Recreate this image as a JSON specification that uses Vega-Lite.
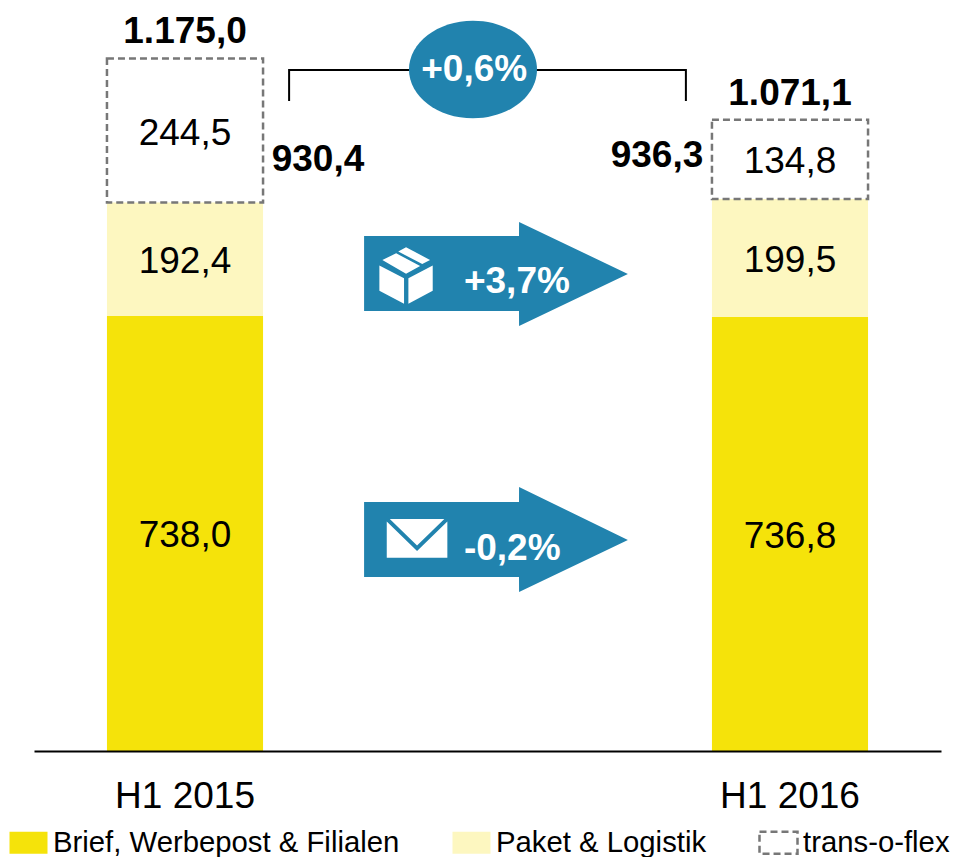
{
"$schema":"https://vega.github.io/schema/vega-lite/v6.json",
"width":907,"height":751,
"autosize":{"type":"none"},
"padding":{"left":34,"right":14,"top":0,"bottom":106},
"background":"white",
"config":{"view":{"stroke":null},"text":{"font":"Liberation Sans","fontSize":37,"color":"#000"},"axis":{"labelFont":"Liberation Sans"},"legend":{"labelFont":"Liberation Sans"}},
"datasets":{
"segments":[
{"period":"H1 2015","segment":"Brief, Werbepost & Filialen","rank":1,"value":738.0,"label":"738,0"},
{"period":"H1 2015","segment":"Paket & Logistik","rank":2,"value":192.4,"label":"192,4"},
{"period":"H1 2015","segment":"trans-o-flex","rank":3,"value":244.5,"label":"244,5"},
{"period":"H1 2016","segment":"Brief, Werbepost & Filialen","rank":1,"value":736.8,"label":"736,8"},
{"period":"H1 2016","segment":"Paket & Logistik","rank":2,"value":199.5,"label":"199,5"},
{"period":"H1 2016","segment":"trans-o-flex","rank":3,"value":134.8,"label":"134,8"}],
"totals":[
{"period":"H1 2015","total":1175.0,"label":"1.175,0","subtotal":930.4,"sublabel":"930,4"},
{"period":"H1 2016","total":1071.1,"label":"1.071,1","subtotal":936.3,"sublabel":"936,3"}],
"arrows":[
{"arrow":"parcel","t":0.2959,"top":873.7,"bottom":746.5},
{"arrow":"parcel","t":0.5521,"top":873.7,"bottom":746.5},
{"arrow":"parcel","t":0.5522,"top":897.5,"bottom":721},
{"arrow":"parcel","t":0.7322,"top":809.3,"bottom":809.3},
{"arrow":"mail","t":0.2959,"top":422.4,"bottom":295.2},
{"arrow":"mail","t":0.5521,"top":422.4,"bottom":295.2},
{"arrow":"mail","t":0.5522,"top":447.9,"bottom":269.8},
{"arrow":"mail","t":0.7322,"top":358,"bottom":358}],
"bracket":[
{"step":1,"t":0.1719,"v":1102.8},
{"step":2,"t":0.1719,"v":1155.4},
{"step":3,"t":0.8281,"v":1155.4},
{"step":4,"t":0.8281,"v":1102.8}],
"changes":[
{"name":"Paket","t":0.461,"v":796,"label":"+3,7%"},
{"name":"Brief","t":0.461,"v":343,"label":"-0,2%"}],
"overall":[{"t":0.476,"v":1156.2,"tl":0.478,"vl":1156,"label":"+0,6%"}],
"parcelIcon":[{"t":0.3653,"v":806.7}],
"mailIcon":[{"t":0.3835,"v":360.9}]
},
"resolve":{"scale":{"x":"independent"}},
"layer":[
{
"layer":[
{"data":{"name":"segments"},
 "mark":{"type":"bar","strokeWidth":2.5},
 "encoding":{
  "x":{"field":"period","type":"nominal","title":null,"sort":null,
   "scale":{"type":"band","paddingInner":0.742,"paddingOuter":0.1206},
   "axis":{"labelAngle":0,"labelFontSize":37,"labelColor":"#000","labelPadding":45,"labelBaseline":"middle","ticks":false,"domainColor":"#000","domainWidth":2,"grid":false,"zindex":1}},
  "y":{"field":"value","type":"quantitative","stack":"zero","scale":{"domain":[0,1274.1],"nice":false},"axis":null},
  "order":{"field":"rank"},
  "fill":{"field":"segment","type":"nominal",
   "scale":{"domain":["Brief, Werbepost & Filialen","Paket & Logistik","trans-o-flex"],"range":["#f5e30a","#fdf7c0","transparent"]},
   "legend":{"title":null,"orient":"none","legendX":-26,"legendY":822,"direction":"horizontal","columns":3,"padding":0,"columnPadding":47,"labelFontSize":29.3,"labelColor":"#000","labelOffset":4,"labelLimit":0,"symbolType":"M-1,-0.58H1V0.58H-1Z","symbolSize":1444,"symbolStrokeWidth":2.5}},
  "stroke":{"field":"segment","type":"nominal",
   "scale":{"domain":["Brief, Werbepost & Filialen","Paket & Logistik","trans-o-flex"],"range":["transparent","transparent","#777777"]},
   "legend":{"title":null,"orient":"none","legendX":-26,"legendY":822,"direction":"horizontal","columns":3,"padding":0,"columnPadding":47,"labelFontSize":29.3,"labelColor":"#000","labelOffset":4,"labelLimit":0,"symbolType":"M-1,-0.58H1V0.58H-1Z","symbolSize":1444,"symbolStrokeWidth":2.5}},
  "strokeDash":{"field":"segment","type":"nominal",
   "scale":{"domain":["Brief, Werbepost & Filialen","Paket & Logistik","trans-o-flex"],"range":[[1,0],[1,0],[7,4]]},
   "legend":{"title":null,"orient":"none","legendX":-26,"legendY":822,"direction":"horizontal","columns":3,"padding":0,"columnPadding":47,"labelFontSize":29.3,"labelColor":"#000","labelOffset":4,"labelLimit":0,"symbolType":"M-1,-0.58H1V0.58H-1Z","symbolSize":1444,"symbolStrokeWidth":2.5}}
 }},
{"data":{"name":"segments"},
 "mark":{"type":"text","baseline":"middle","dy":3},
 "encoding":{
  "x":{"field":"period","type":"nominal","sort":null},
  "y":{"field":"value","type":"quantitative","stack":"zero","bandPosition":0.5},
  "order":{"field":"rank"},
  "text":{"field":"label"}}},
{"data":{"name":"totals"},
 "mark":{"type":"text","baseline":"middle","fontWeight":"bold","dy":-26},
 "encoding":{
  "x":{"field":"period","type":"nominal","sort":null},
  "y":{"field":"total","type":"quantitative"},
  "text":{"field":"label"}}},
{"data":{"name":"totals"},
 "transform":[{"filter":"datum.period==='H1 2015'"}],
 "mark":{"type":"text","baseline":"middle","fontWeight":"bold","dx":133,"dy":-43},
 "encoding":{
  "x":{"field":"period","type":"nominal","sort":null},
  "y":{"field":"subtotal","type":"quantitative"},
  "text":{"field":"sublabel"}}},
{"data":{"name":"totals"},
 "transform":[{"filter":"datum.period==='H1 2016'"}],
 "mark":{"type":"text","baseline":"middle","fontWeight":"bold","dx":-133,"dy":-43},
 "encoding":{
  "x":{"field":"period","type":"nominal","sort":null},
  "y":{"field":"subtotal","type":"quantitative"},
  "text":{"field":"sublabel"}}}
]},
{
"layer":[
{"data":{"name":"bracket"},
 "mark":{"type":"line","color":"#000","strokeWidth":2,"interpolate":"linear"},
 "encoding":{
  "x":{"field":"t","type":"quantitative","scale":{"domain":[-0.25,1.25],"nice":false,"zero":false},"axis":null},
  "y":{"field":"v","type":"quantitative"},
  "order":{"field":"step"}}},
{"data":{"name":"arrows"},
 "mark":{"type":"area","color":"#2183ae","interpolate":"linear"},
 "encoding":{
  "x":{"field":"t","type":"quantitative"},
  "y":{"field":"top","type":"quantitative"},
  "y2":{"field":"bottom"},
  "detail":{"field":"arrow"}}},
{"data":{"name":"overall"},
 "mark":{"type":"point","filled":true,"opacity":1,"color":"#2183ae","size":16384,"shape":"M-1,0A1,0.763 0 1,1 1,0A1,0.763 0 1,1 -1,0Z"},
 "encoding":{
  "x":{"field":"t","type":"quantitative"},
  "y":{"field":"v","type":"quantitative"}}},
{"data":{"name":"overall"},
 "mark":{"type":"text","baseline":"middle","fontWeight":"bold","color":"#fff"},
 "encoding":{
  "x":{"field":"tl","type":"quantitative"},
  "y":{"field":"vl","type":"quantitative"},
  "text":{"field":"label"}}},
{"data":{"name":"changes"},
 "mark":{"type":"text","align":"left","baseline":"middle","fontWeight":"bold","color":"#fff"},
 "encoding":{
  "x":{"field":"t","type":"quantitative"},
  "y":{"field":"v","type":"quantitative"},
  "text":{"field":"label"}}},
{"data":{"name":"parcelIcon"},
 "mark":{"type":"point","filled":true,"opacity":1,"color":"#fff","size":3600,
  "shape":"M-0.889,-0.333L-0.067,0.089L-0.067,0.944L-0.889,0.511ZM0.889,-0.333L0.078,0.089L0.078,0.944L0.889,0.511ZM-0.79,-0.52L-0.33,-0.74L0.47,-0.32L0,-0.06ZM-0.26,-0.8L0,-0.94L0.8,-0.52L0.54,-0.38Z"},
 "encoding":{
  "x":{"field":"t","type":"quantitative"},
  "y":{"field":"v","type":"quantitative"}}},
{"data":{"name":"mailIcon"},
 "mark":{"type":"point","filled":true,"opacity":1,"color":"#fff","size":3672,
  "shape":"M-0.9,-0.64L0.9,-0.64L0,0.24ZM-1,-0.55L0,0.42L1,-0.55L1,0.64L-1,0.64Z"},
 "encoding":{
  "x":{"field":"t","type":"quantitative"},
  "y":{"field":"v","type":"quantitative"}}}
]}
]
}
